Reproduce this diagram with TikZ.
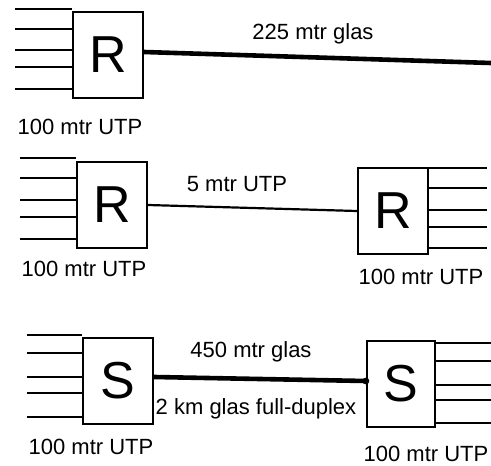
\documentclass[tikz,border=0pt]{standalone}
\usepackage{fontspec}
\setmainfont{Liberation Sans}
\usetikzlibrary{positioning}
\tikzset{
  unit/.style={
    draw=black, line width=2.2pt, minimum width=#1, minimum height=86pt,
    inner sep=0pt, font=\fontsize{52}{54}\selectfont
  },
  unit/.default=70pt,
  stub/.style={line width=2.4pt},
  utp/.style={line width=2.2pt},
  glas/.style={line width=4.6pt},
  lbl/.style={font=\fontsize{22}{24}\selectfont, inner sep=0pt},
}

\begin{document}
\begin{tikzpicture}[x=1pt, y=-1pt]
    \useasboundingbox (0,0) rectangle (491,466);

    % bovenste rij: router met glas
    \node[unit] (ra) at (108,55) {R};
    \foreach \y in {9,29,50,67,89}
      \draw[stub] (15,\y) -- (ra.west |- 0,\y);
    \coordinate (ra-end) at (491,63);
    \draw[glas] ([yshift=3pt]ra.east) -- (ra-end);
    \node[lbl] (ra-glas) at (313,34) {225 mtr glas};
    \node[lbl] (ra-utp) at (80,127) {100 mtr UTP};

    % middelste rij: twee routers
    \node[unit] (rb) at (112,205) {R};
    \node[unit] (rc) at (393,211) {R};
    \foreach \y in {158,178,200,217,239}
      \draw[stub] (20,\y) -- (rb.west |- 0,\y);
    \foreach \y in {168,188,210,227,248}
      \draw[stub] (rc.east |- 0,\y) -- (487,\y);
    \draw[utp] (rb.east) -- (rc.west);
    \node[lbl] (rb-link) at (237,184) {5 mtr UTP};
    \node[lbl] (rb-utp) at (84,269) {100 mtr UTP};
    \node[lbl] (rc-utp) at (421,277) {100 mtr UTP};

    % onderste rij: twee switches
    \node[unit] (sa) at (118,381) {S};
    \node[unit=68pt] (sb) at (401,384) {S};
    \foreach \y in {335,353,377,393,417}
      \draw[stub] (27,\y) -- (sa.west |- 0,\y);
    \foreach \y in {343,361,385,400,423}
      \draw[stub] (sb.east |- 0,\y) -- (491,\y);
    \draw[glas] ([yshift=4pt]sa.east) -- ([yshift=3pt]sb.west);
    \fill ([yshift=3pt]sb.west) circle (3.4pt);
    \node[lbl] (sa-glas) at (251,352) {450 mtr glas};
    \node[lbl] (sa-duplex) at (256,409) {2 km glas full-duplex};
    \node[lbl] (sa-utp) at (91,447) {100 mtr UTP};
    \node[lbl] (sb-utp) at (426,454) {100 mtr UTP};
\end{tikzpicture}
\end{document}
